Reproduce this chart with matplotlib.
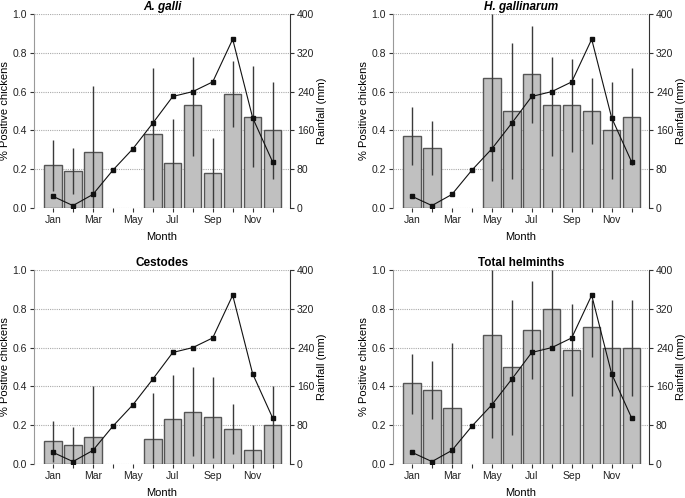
import numpy as np
import matplotlib
matplotlib.use("Agg")
import matplotlib.pyplot as plt

plt.rcParams['font.family'] = ['Liberation Sans', 'DejaVu Sans']

months = np.arange(1, 13)
month_labels = ["Jan", "", "Mar", "", "May", "", "Jul", "", "Sep", "", "Nov", ""]
rainfall = [24, 5, 28, 78, 122, 175, 230, 240, 260, 348, 186, 95]

# prevalence (nan = no data), with lower / upper interval ends
galli = [0.22, 0.19, 0.29, np.nan, np.nan, 0.38, 0.23, 0.53, 0.18, 0.59, 0.47, 0.40]
galli_lo = [0.09, 0.07, 0.0, np.nan, np.nan, 0.04, 0.0, 0.27, 0.0, 0.42, 0.21, 0.15]
galli_hi = [0.35, 0.31, 0.63, np.nan, np.nan, 0.72, 0.46, 0.78, 0.36, 0.76, 0.73, 0.65]

hgall = [0.37, 0.31, np.nan, np.nan, 0.67, 0.50, 0.69, 0.53, 0.53, 0.50, 0.40, 0.47]
hgall_lo = [0.22, 0.17, np.nan, np.nan, 0.14, 0.15, 0.44, 0.27, 0.29, 0.33, 0.15, 0.22]
hgall_hi = [0.52, 0.45, np.nan, np.nan, 1.0, 0.85, 0.94, 0.78, 0.77, 0.67, 0.65, 0.72]

cest = [0.12, 0.10, 0.14, np.nan, np.nan, 0.13, 0.23, 0.27, 0.24, 0.18, 0.07, 0.20]
cest_lo = [0.01, 0.0, 0.0, np.nan, np.nan, 0.0, 0.0, 0.04, 0.03, 0.05, 0.0, 0.0]
cest_hi = [0.22, 0.19, 0.40, np.nan, np.nan, 0.365, 0.46, 0.50, 0.45, 0.31, 0.20, 0.40]

total = [0.415, 0.383, 0.29, np.nan, 0.667, 0.50, 0.69, 0.80, 0.59, 0.707, 0.60, 0.60]
total_lo = [0.26, 0.233, 0.0, np.nan, 0.132, 0.15, 0.44, 0.60, 0.35, 0.55, 0.35, 0.35]
total_hi = [0.566, 0.53, 0.624, np.nan, 1.0, 0.847, 0.943, 1.0, 0.823, 0.847, 0.847, 0.847]

panels = [
    ("A. galli", "italic", galli, galli_lo, galli_hi),
    ("H. gallinarum", "italic", hgall, hgall_lo, hgall_hi),
    ("Cestodes", "normal", cest, cest_lo, cest_hi),
    ("Total helminths", "normal", total, total_lo, total_hi),
]

fig = plt.figure(figsize=(6.85, 4.98), dpi=100)
W, H = 685.0, 498.0
boxes = [(34, 14), (393, 14), (34, 270), (393, 270)]
aw, ah = 256, 194

for (title, style, vals, lo, hi), (x0, y0) in zip(panels, boxes):
    ax = fig.add_axes([x0 / W, 1 - (y0 + ah) / H, aw / W, ah / H])
    vals = np.array(vals)
    lo = np.array(lo)
    hi = np.array(hi)
    ok = ~np.isnan(vals)
    for y in [0.0, 0.2, 0.4, 0.6, 0.8, 1.0]:
        ax.axhline(y, color="#aaaaaa", lw=0.8, ls=(0, (1, 1)), zorder=0)
    ax.bar(months[ok], vals[ok], width=0.87, color="#c0c0c0",
           edgecolor="#555555", linewidth=1.0, zorder=2)
    ax.vlines(months[ok], lo[ok], hi[ok], color="#3a3a3a", lw=1.0, zorder=3)
    ax.set_ylim(0, 1.0)
    ax.set_xlim(0.05, 12.87)
    ax.set_yticks([0.0, 0.2, 0.4, 0.6, 0.8, 1.0])
    ax.set_yticklabels(["0.0", "0.2", "0.4", "0.6", "0.8", "1.0"])
    ax.set_xticks(months)
    ax.set_xticklabels(month_labels)
    ax.tick_params(axis="both", labelsize=7.5, length=3, color="#333333",
                   labelcolor="#222222", pad=2)
    ax.spines["top"].set_visible(False)
    ax.spines["bottom"].set_visible(False)
    ax.spines["right"].set_visible(False)
    ax.spines["left"].set_color("#999999")
    ax.set_ylabel("% Positive chickens", fontsize=8, labelpad=2)
    ax.set_xlabel("Month", fontsize=8, labelpad=5)
    ax.set_title(title, fontsize=8.5, fontweight="bold", fontstyle=style, pad=3)

    ax2 = ax.twinx()
    ax2.plot(months, rainfall, color="#111111", lw=0.8, marker="s",
             markersize=3, zorder=5)
    ax2.set_ylim(0, 400)
    ax2.set_yticks([0, 80, 160, 240, 320, 400])
    ax2.tick_params(axis="y", labelsize=7.5, length=3, color="#333333",
                    labelcolor="#222222", pad=2)
    for s in ["top", "bottom", "left"]:
        ax2.spines[s].set_visible(False)
    ax2.spines["right"].set_color("#333333")
    ax2.set_ylabel("Rainfall (mm)", fontsize=8, labelpad=2)

fig.savefig("out.png", dpi=100)
